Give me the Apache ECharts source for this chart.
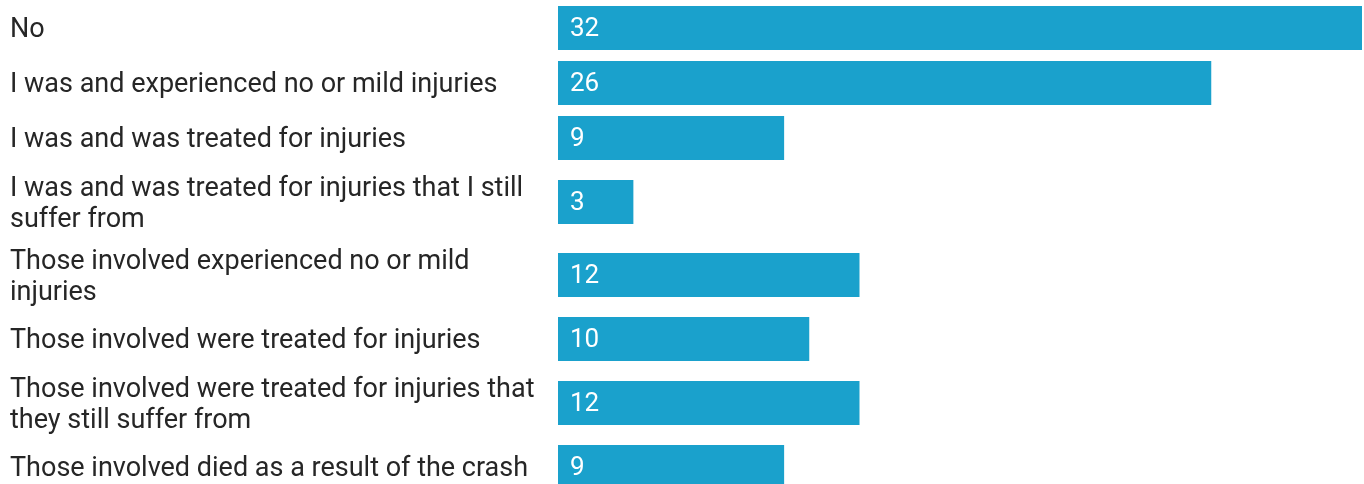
<!DOCTYPE html>
<html>
<head>
<meta charset="utf-8">
<script src="https://cdn.jsdelivr.net/npm/echarts@6/dist/echarts.min.js"></script>
<style>
  html, body { margin: 0; padding: 0; background: #fff; }
  #chart { width: 1364px; height: 484px; }
</style>
</head>
<body>
<div id="chart"></div>
<script>
// Survey answers and their counts
const categories = [
  'No',
  'I was and experienced no or mild injuries',
  'I was and was treated for injuries',
  'I was and was treated for injuries that I still suffer from',
  'Those involved experienced no or mild injuries',
  'Those involved were treated for injuries',
  'Those involved were treated for injuries that they still suffer from',
  'Those involved died as a result of the crash'
];
const values = [32, 26, 9, 3, 12, 10, 12, 9];
const axisMax = 32;

// Layout constants
const LABEL_FONT = '27px Roboto';
const VALUE_FONT = '26px Roboto';
const LABEL_WIDTH = 545;
const LINE_H = 31;
const BAR_H = 44;
const ROW_BASE = 55;      // row height for a one-line label
const ROW_EXTRA = 18;     // added height per extra label line
const TEXT_NUDGE = 2.5;   // optical baseline correction for Roboto
const BAR_COLOR = '#1aa1cc';

// Word-wrap the category names to the label column width
const measureCtx = document.createElement('canvas').getContext('2d');
measureCtx.font = LABEL_FONT;
function wrap(text) {
  const words = text.split(' ');
  const lines = [];
  let cur = '';
  words.forEach(w => {
    const test = cur ? cur + ' ' + w : w;
    if (cur && measureCtx.measureText(test).width > LABEL_WIDTH) {
      lines.push(cur);
      cur = w;
    } else {
      cur = test;
    }
  });
  if (cur) lines.push(cur);
  return lines;
}
const wrapped = categories.map(wrap);

// Row centres follow from the number of label lines in each row
const rowCenters = [];
let rowTop = 0.5;
wrapped.forEach(lines => {
  const h = ROW_BASE + ROW_EXTRA * (lines.length - 1);
  rowCenters.push(rowTop + h / 2);
  rowTop += h;
});

const chart = echarts.init(document.getElementById('chart'), null, { renderer: 'canvas' });

chart.setOption({
  animation: false,
  backgroundColor: '#ffffff',
  grid: { left: 558, right: 2, top: 0, height: 484 },
  xAxis: { type: 'value', min: 0, max: axisMax, show: false },
  yAxis: { type: 'value', min: 0, max: 484, inverse: true, show: false },
  series: [{
    type: 'custom',
    clip: false,
    data: values.map((v, i) => [v, rowCenters[i], i]),
    encode: { x: 0, y: 1 },
    renderItem: function (params, api) {
      const v = api.value(0);
      const c = api.value(1);
      const i = api.value(2);
      const p0 = api.coord([0, c]);
      const p1 = api.coord([v, c]);
      return {
        type: 'group',
        children: [
          {
            type: 'rect',
            shape: { x: p0[0], y: p0[1] - BAR_H / 2, width: p1[0] - p0[0], height: BAR_H },
            style: { fill: BAR_COLOR }
          },
          {
            type: 'text',
            x: p0[0] + 12,
            y: p0[1] + TEXT_NUDGE - 1,
            style: { text: String(v), fill: '#ffffff', font: VALUE_FONT, verticalAlign: 'middle', align: 'left' }
          },
          {
            type: 'text',
            x: 10,
            y: p0[1] + TEXT_NUDGE,
            style: {
              text: wrapped[i].join('\n'),
              fill: '#262626',
              font: LABEL_FONT,
              lineHeight: LINE_H,
              verticalAlign: 'middle',
              align: 'left'
            }
          }
        ]
      };
    }
  }]
});
</script>
</body>
</html>
